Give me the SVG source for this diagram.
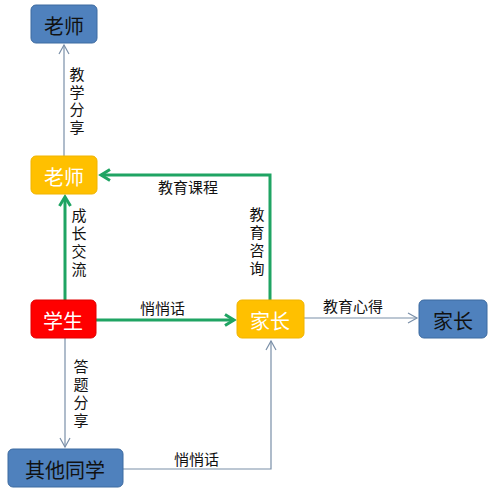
<svg xmlns="http://www.w3.org/2000/svg" width="497" height="495" viewBox="0 0 497 495">
<style>
text{font-family:"Noto Sans CJK SC","Noto Sans CJK JP",sans-serif}
.n{font-size:20px;text-anchor:middle;dominant-baseline:central}
.lb{font-size:15px;fill:#111}
.v{font-size:15px;fill:#111;text-anchor:middle}
.blue{fill:#4F81BD;stroke:#3C6AA0;stroke-width:1}
.yel{fill:#FFC000;stroke:#F0B400;stroke-width:1}
.red{fill:#FF0000;stroke:#E00000;stroke-width:1}
.thin{fill:none;stroke:#7A8FA8;stroke-width:1.2}
.grn{fill:none;stroke:#1FA463;stroke-width:3}
</style>
<defs>
<marker id="ao" markerWidth="12" markerHeight="12" refX="10" refY="6" orient="auto" markerUnits="userSpaceOnUse"><path d="M1,1 L10,6 L1,11" fill="none" stroke="#7A8FA8" stroke-width="1.2"/></marker>
<marker id="ag" markerWidth="14" markerHeight="14" refX="11" refY="7" orient="auto" markerUnits="userSpaceOnUse"><path d="M2,1.5 L11,7 L2,12.5" fill="none" stroke="#1FA463" stroke-width="3"/></marker>
</defs>
<rect width="497" height="495" fill="#fff"/>
<g id="connectors">
<line class="thin" x1="64" y1="156" x2="64" y2="45" marker-end="url(#ao)"/>
<text class="v"><tspan x="77" y="80">教</tspan><tspan x="77" dy="17.5">学</tspan><tspan x="77" dy="17.5">分</tspan><tspan x="77" dy="17.5">享</tspan></text>
<line class="grn" x1="65" y1="300" x2="65" y2="197" marker-end="url(#ag)"/>
<text class="v"><tspan x="79" y="221">成</tspan><tspan x="79" dy="18">长</tspan><tspan x="79" dy="18">交</tspan><tspan x="79" dy="18">流</tspan></text>
<line class="grn" x1="96" y1="320" x2="234" y2="320" marker-end="url(#ag)"/>
<text class="lb" x="140" y="314">悄悄话</text>
<polyline class="grn" points="270,300 270,175 101,175" marker-end="url(#ag)"/>
<text class="lb" x="158" y="193">教育课程</text>
<text class="v"><tspan x="257" y="220">教</tspan><tspan x="257" dy="18">育</tspan><tspan x="257" dy="18">咨</tspan><tspan x="257" dy="18">询</tspan></text>
<line class="thin" x1="304" y1="318" x2="417" y2="318" marker-end="url(#ao)"/>
<text class="lb" x="323" y="312">教育心得</text>
<line class="thin" x1="65" y1="338" x2="65" y2="447" marker-end="url(#ao)"/>
<text class="v"><tspan x="81" y="372">答</tspan><tspan x="81" dy="18">题</tspan><tspan x="81" dy="18">分</tspan><tspan x="81" dy="18">享</tspan></text>
<polyline class="thin" points="123,469 271,469 271,341" marker-end="url(#ao)"/>
<text class="lb" x="174" y="465">悄悄话</text>
</g>
<g id="teacher-top"><rect class="blue" x="31" y="5" width="66" height="38" rx="5"/><text class="n" x="64" y="25" fill="#111">老师</text></g>
<g id="teacher"><rect class="yel" x="31" y="156" width="66" height="38" rx="5"/><text class="n" x="64" y="176" fill="#fff">老师</text></g>
<g id="student"><rect class="red" x="31" y="300" width="65" height="38" rx="5"/><text class="n" x="63" y="320" fill="#fff">学生</text></g>
<g id="parent"><rect class="yel" x="237" y="300" width="67" height="38" rx="5"/><text class="n" x="270" y="320" fill="#fff">家长</text></g>
<g id="parent-right"><rect class="blue" x="419" y="300" width="68" height="38" rx="5"/><text class="n" x="453" y="320" fill="#111">家长</text></g>
<g id="classmates"><rect class="blue" x="8" y="449" width="115" height="38" rx="5"/><text class="n" x="65" y="469" fill="#111">其他同学</text></g>
</svg>
